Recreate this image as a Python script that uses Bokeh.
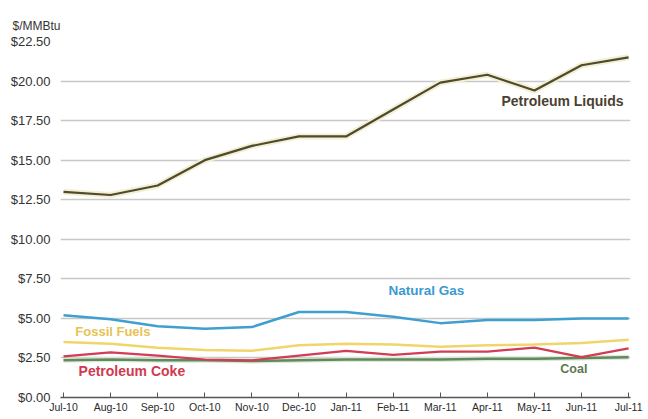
from bokeh.plotting import figure
from bokeh.models import Label, Range1d, FixedTicker, NumeralTickFormatter
from bokeh.embed import file_html
from bokeh.resources import INLINE

# Monthly average cost of fossil fuels delivered for electricity generation
months = ["Jul-10", "Aug-10", "Sep-10", "Oct-10", "Nov-10", "Dec-10", "Jan-11",
          "Feb-11", "Mar-11", "Apr-11", "May-11", "Jun-11", "Jul-11"]

petroleum_liquids = [13.0, 12.8, 13.4, 15.0, 15.9, 16.5, 16.5, 18.2, 19.9, 20.4, 19.4, 21.0, 21.5]
natural_gas = [5.2, 4.95, 4.5, 4.35, 4.45, 5.4, 5.4, 5.1, 4.7, 4.9, 4.9, 5.0, 5.0]
fossil_fuels = [3.5, 3.4, 3.15, 3.0, 2.95, 3.3, 3.4, 3.35, 3.2, 3.3, 3.35, 3.45, 3.65]
petroleum_coke = [2.6, 2.85, 2.65, 2.4, 2.35, 2.65, 2.95, 2.7, 2.9, 2.9, 3.15, 2.55, 3.1]
coal = [2.35, 2.4, 2.35, 2.35, 2.3, 2.35, 2.4, 2.4, 2.4, 2.45, 2.45, 2.5, 2.55]

y_ticks = [0, 2.5, 5, 7.5, 10, 12.5, 15, 17.5, 20, 22.5]

x = list(range(len(months)))

p = figure(width=648, height=419, output_backend="svg", toolbar_location=None,
           x_range=Range1d(-0.064, 12.04), y_range=Range1d(0, 22.5),
           min_border_left=60, min_border_right=18, min_border_top=41,
           min_border_bottom=22, title="$/MMBtu")
p.title.text_font = "Liberation Sans"
p.title.text_font_size = "12px"
p.title.text_font_style = "normal"
p.title.text_color = "#333333"
p.title.align = "left"
p.title.offset = -48
p.title.standoff = 18
p.outline_line_color = None
p.background_fill_color = "white"
p.border_fill_color = "white"

# Axes
p.xaxis.ticker = FixedTicker(ticks=x)
p.xaxis.major_label_overrides = {i: m for i, m in enumerate(months)}
p.xaxis.major_label_text_font = "Liberation Sans"
p.xaxis.major_label_text_font_size = "10.5px"
p.xaxis.major_label_text_color = "#2a2a2a"
p.xaxis.major_label_standoff = 3
p.xaxis.major_tick_in = 5
p.xaxis.major_tick_out = 0
p.xaxis.minor_tick_line_color = None
p.xaxis.axis_line_color = "#555555"
p.xaxis.axis_line_width = 1.5
p.xaxis.major_tick_line_color = "#555555"

p.yaxis.ticker = FixedTicker(ticks=y_ticks)
p.yaxis.formatter = NumeralTickFormatter(format="$0.00")
p.yaxis.major_label_text_font = "Liberation Sans"
p.yaxis.major_label_text_font_size = "13px"
p.yaxis.major_label_text_color = "#333333"
p.yaxis.axis_line_color = None
p.yaxis.major_tick_line_color = None
p.yaxis.minor_tick_line_color = None
p.yaxis.major_label_standoff = 4

p.xgrid.grid_line_color = None
p.ygrid.grid_line_color = "#c8c8c8"
p.ygrid.grid_line_width = 1.5

# Series lines
p.line(x, petroleum_liquids, line_color="#f2efd2", line_width=6)
p.line(x, petroleum_liquids, line_color="#4d4a30", line_width=2.2)
p.line(x, coal, line_color="#dfe8d8", line_width=5)
p.line(x, coal, line_color="#5f8a5c", line_width=2.5)
p.line(x, petroleum_coke, line_color="#d23c55", line_width=2.2)
p.line(x, fossil_fuels, line_color="#f0d66a", line_width=2.5)
p.line(x, natural_gas, line_color="#3f9fd0", line_width=2.5)

# Series names
series_labels = [
    ("Petroleum Liquids", 9.3, 18.75, "#4a4130", "14px"),
    ("Natural Gas", 6.9, 6.75, "#3a9ad0", "13.5px"),
    ("Fossil Fuels", 0.25, 4.17, "#e6c255", "13px"),
    ("Petroleum Coke", 0.32, 1.7, "#d03a50", "14px"),
    ("Coal", 10.55, 1.83, "#5a7a50", "12.5px"),
]
for text, lx, ly, color, size in series_labels:
    p.add_layout(Label(x=lx, y=ly, text=text, text_font="Liberation Sans",
                       text_font_size=size, text_font_style="bold",
                       text_color=color, text_baseline="middle"))

open("out.html", "w").write(file_html(p, INLINE))
